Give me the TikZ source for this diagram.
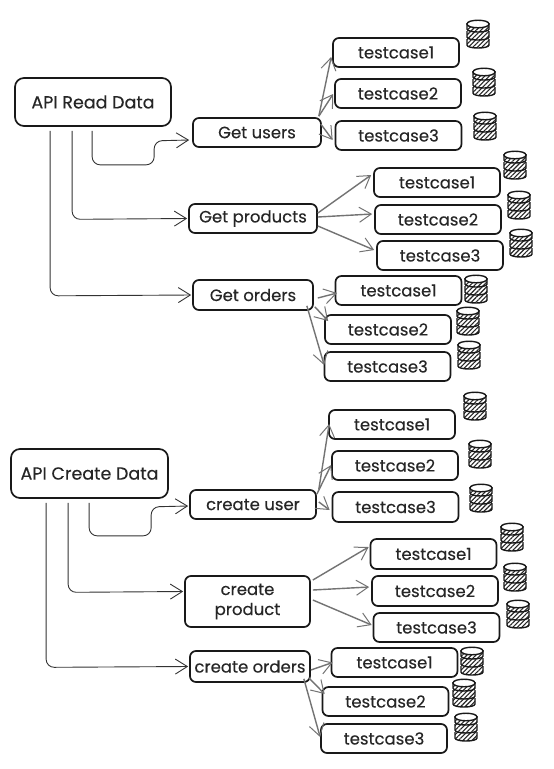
\documentclass[tikz,border=0pt]{standalone}
\usepackage{fontspec}
\setmainfont[FakeBold=0.25]{Poppins}
\usetikzlibrary{arrows.meta,patterns.meta,calc}
\tikzset{
  flowbox/.style={draw=black!90,line width=1.7pt,rounded corners=6pt,fill=white,inner sep=0pt,align=center,font=\fontsize{16.5}{20}\selectfont,text=black!85},
  casebox/.style={flowbox,minimum width=126pt,minimum height=29pt},
  midbox/.style={flowbox,minimum height=29pt},
  rootbox/.style={flowbox,minimum width=156pt,minimum height=48pt,rounded corners=9pt,font=\fontsize{17.5}{21}\selectfont},
  mainarrow/.style={draw=black!80,line width=0.9pt,rounded corners=8pt,-{Straight Barb[length=12pt,width=15pt,line width=0.9pt]}},
  sidearrow/.style={draw=black!55,line width=1.4pt,-{Straight Barb[length=12pt,width=15pt,line width=1pt]}},
  dbstack/.pic={
    \foreach \yy in {5,-3,-11}{
      \path[fill=white] (-11,\yy) -- (-11,\yy+6) .. controls (-11,\yy+10) and (11,\yy+10) .. (11,\yy+6) -- (11,\yy) -- cycle;
      \path[pattern={Lines[angle=45,distance=3.2pt,line width=1.1pt]},pattern color=black!85] (-11,\yy) -- (-11,\yy+6) .. controls (-11,\yy+10) and (11,\yy+10) .. (11,\yy+6) -- (11,\yy) -- cycle;
      \draw[line width=1.4pt,black!90] (-11,\yy) -- (-11,\yy+6) .. controls (-11,\yy+10) and (11,\yy+10) .. (11,\yy+6) -- (11,\yy);
    }
    \draw[line width=1.4pt,black!90,fill=white] (-11,-10) .. controls (-11,-15) and (11,-15) .. (11,-10) .. controls (11,-5) and (-11,-5) .. (-11,-10) -- cycle;
  }
}
\begin{document}
\begin{tikzpicture}[x=1pt,y=-1pt]
\fill[white] (0,0) rectangle (554,769);
\useasboundingbox (0,0) rectangle (554,769);

% ---------- API Read Data
\node[rootbox] (ra) at (93,102) {API Read Data};
\node[midbox,minimum width=128pt] (gu) at (257,132.5) {Get users};
\node[midbox,minimum width=128pt] (gp) at (253,218.5) {Get products};
\node[midbox,minimum width=120pt,minimum height=30pt] (go) at (253,295) {Get orders};
\node[casebox] (u1) at (396,52.5) {testcase1};
\node[casebox] (u2) at (398,93.5) {testcase2};
\node[casebox] (u3) at (398.5,135.5) {testcase3};
\node[casebox] (p1) at (437,182.5) {testcase1};
\node[casebox] (p2) at (438,219.5) {testcase2};
\node[casebox] (p3) at (440,255.5) {testcase3};
\node[casebox] (o1) at (398.5,290.5) {testcase1};
\node[casebox] (o2) at (388,329.5) {testcase2};
\node[casebox] (o3) at (387.5,366.5) {testcase3};

\coordinate (ra1) at ([xshift=78pt,yshift=-4pt]ra.south west);
\coordinate (ra2) at ([xshift=58pt,yshift=-4pt]ra.south west);
\coordinate (ra3) at ([xshift=36pt,yshift=-4pt]ra.south west);
\draw[mainarrow] (ra1) -- ++(0,34) -- ++(62,0) -- ++(0,-24) -- ([yshift=-7.5pt,xshift=-3pt]gu.west);
\draw[mainarrow] (ra2) -- ++(0,88.5) -- ([xshift=-1pt]gp.west);
\draw[mainarrow] (ra3) -- ++(0,165) -- ([xshift=-1pt]go.west);

\draw[sidearrow] ([xshift=-3pt,yshift=1pt]gu.north east) -- ([xshift=-1pt,yshift=-4.5pt]u1.west);
\draw[sidearrow] ([xshift=-3pt,yshift=1pt]gu.north east) -- ([xshift=-1pt,yshift=-0.5pt]u2.west);
\draw[sidearrow] ([xshift=-1pt,yshift=-7pt]gu.north east) -- ([xshift=-2pt,yshift=-4.5pt]u3.west);
\draw[sidearrow] ([yshift=5.5pt]gp.east) -- ([xshift=-2pt,yshift=7.5pt]p1.west);
\draw[sidearrow] ([yshift=1.5pt]gp.east) -- ([xshift=-2pt,yshift=5.5pt]p2.west);
\draw[sidearrow] ([yshift=-7.5pt]gp.east) -- ([xshift=-2pt,yshift=5.5pt]p3.west);
\draw[sidearrow] ([xshift=4pt,yshift=-3pt]go.east) -- ([xshift=2.5pt,yshift=-2.5pt]o1.west);
\draw[sidearrow] ([xshift=1pt,yshift=4pt]go.south east) -- ([xshift=4pt,yshift=8.5pt]o2.west);
\draw[sidearrow] ([xshift=-7pt,yshift=5pt]go.south east) -- ([xshift=0.5pt,yshift=1.5pt]o3.west);

\pic at (478,34) {dbstack};
\pic at (484,82) {dbstack};
\pic at (485,126) {dbstack};
\pic at (515,165) {dbstack};
\pic at (519,205) {dbstack};
\pic at (521,243) {dbstack};
\pic at (476,289) {dbstack};
\pic at (468,321) {dbstack};
\pic at (469,355) {dbstack};

% ---------- API Create Data
\node[rootbox,minimum width=157pt,minimum height=49pt] (ca) at (89.5,473.5) {API Create Data};
\node[midbox,minimum width=126pt] (cu) at (253,504.5) {create user};
\node[midbox,minimum width=125pt,minimum height=51pt] (cp) at (247.5,601.5) {create\\product};
\node[midbox,minimum width=120pt,minimum height=31pt] (co) at (250,666.5) {create orders};
\node[casebox] (v1) at (392,424.5) {testcase1};
\node[casebox] (v2) at (395,465.5) {testcase2};
\node[casebox,minimum height=30pt] (v3) at (395.5,507) {testcase3};
\node[casebox,minimum height=30pt] (q1) at (433.5,554) {testcase1};
\node[casebox,minimum height=30pt] (q2) at (435,591) {testcase2};
\node[casebox] (q3) at (436.5,627.5) {testcase3};
\node[casebox] (w1) at (394.5,662.5) {testcase1};
\node[casebox] (w2) at (385.5,701.5) {testcase2};
\node[casebox] (w3) at (384,738.5) {testcase3};

\coordinate (ca1) at ([xshift=79pt,yshift=-4pt]ca.south west);
\coordinate (ca2) at ([xshift=58pt,yshift=-4pt]ca.south west);
\coordinate (ca3) at ([xshift=36pt,yshift=-4pt]ca.south west);
\draw[mainarrow] (ca1) -- ++(0,33) -- ++(62,0) -- ++(0,-29) -- ([yshift=-1.5pt,xshift=-1pt]cu.west);
\draw[mainarrow] (ca2) -- ++(0,89.5) -- ([yshift=10pt,xshift=-1pt]cp.west);
\draw[mainarrow] (ca3) -- ++(0,164.5) -- ([xshift=-1pt]co.west);

\draw[sidearrow] ([xshift=2pt]cu.north east) -- ([xshift=1pt,yshift=0.5pt]v1.west);
\draw[sidearrow] ([yshift=-5pt]cu.north east) -- ([yshift=0.5pt]v2.west);
\draw[sidearrow] ([xshift=2pt,yshift=2.5pt]cu.east) -- ([xshift=-2pt,yshift=-3pt]v3.west);
\draw[sidearrow] ([xshift=2pt,yshift=21.5pt]cp.east) -- ([xshift=-1pt,yshift=7pt]q1.west);
\draw[sidearrow] ([xshift=2pt,yshift=11.5pt]cp.east) -- ([xshift=-2pt,yshift=4pt]q2.west);
\draw[sidearrow] ([xshift=2pt,yshift=1.5pt]cp.east) -- ([xshift=-1pt,yshift=2.5pt]q3.west);
\draw[sidearrow] ([yshift=-3.5pt]co.east) -- ([xshift=2pt]w1.west);
\draw[sidearrow] ([xshift=-2pt,yshift=5pt]co.south east) -- ([xshift=3pt,yshift=7.5pt]w2.west);
\draw[sidearrow] ([xshift=-7pt,yshift=4pt]co.south east) -- ([yshift=1.5pt]w3.west);

\pic at (475,406) {dbstack};
\pic at (480,454) {dbstack};
\pic at (481,498) {dbstack};
\pic at (512,537) {dbstack};
\pic at (515,577) {dbstack};
\pic at (518,614) {dbstack};
\pic at (472,661) {dbstack};
\pic at (464,693) {dbstack};
\pic at (466,727) {dbstack};
\end{tikzpicture}
\end{document}
